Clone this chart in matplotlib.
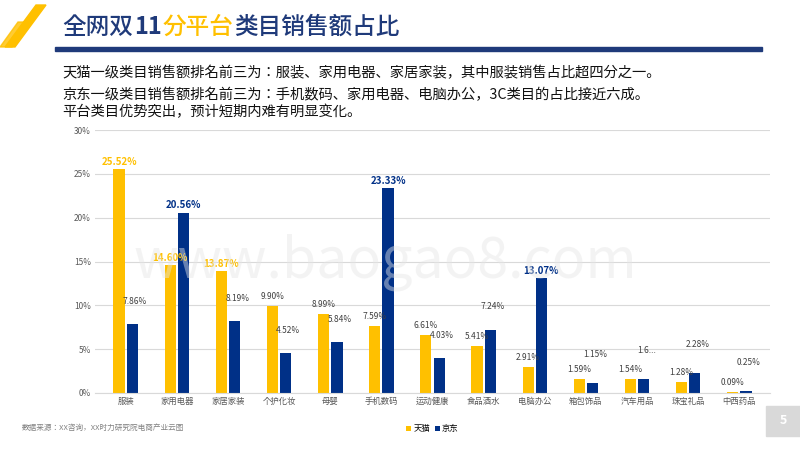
import matplotlib
matplotlib.use("Agg")
import matplotlib.pyplot as plt
from matplotlib import font_manager
import numpy as np
from matplotlib.patches import Polygon, Rectangle

names = {f.name for f in font_manager.fontManager.ttflist}
cjk = [n for n in ["Noto Sans CJK SC", "Noto Sans CJK JP", "Noto Sans CJK TC", "Noto Sans CJK KR"] if n in names]
plt.rcParams["font.family"] = cjk + ["DejaVu Sans"]

categories = ["服装", "家用电器", "家居家装", "个护化妆", "母婴", "手机数码", "运动健康",
              "食品酒水", "电脑办公", "箱包饰品", "汽车用品", "珠宝礼品", "中西药品"]
tmall = [25.52, 14.60, 13.87, 9.90, 8.99, 7.59, 6.61, 5.41, 2.91, 1.59, 1.54, 1.28, 0.09]
jd = [7.86, 20.56, 8.19, 4.52, 5.84, 23.33, 4.03, 7.24, 13.07, 1.15, 1.6, 2.28, 0.25]
yticks = [0, 5, 10, 15, 20, 25, 30]
series_names = ["天猫", "京东"]

GOLD = "#FFC000"
NAVY = "#003087"
TNAVY = "#1F3A7A"

fig = plt.figure(figsize=(8, 4.5), dpi=100)
W, H = 800, 450

def fx(x): return x / W
def fy(y): return 1 - y / H

fig.patches.append(Polygon([[fx(36), fy(5)], [fx(46), fy(5)], [fx(15), fy(47)], [fx(5), fy(47)]],
                           closed=True, transform=fig.transFigure, color=GOLD))
fig.patches.append(Polygon([[fx(18), fy(22)], [fx(30), fy(22)], [fx(12), fy(47)], [fx(0), fy(47)]],
                           closed=True, transform=fig.transFigure, color=GOLD, alpha=0.8))
fig.patches.append(Rectangle((fx(55), fy(51)), fx(707), 4 / H, transform=fig.transFigure, color=TNAVY))

renderer = fig.canvas.get_renderer()
xpos = 62
for part, col, wt in [("全网双", TNAVY, "medium"), ("11", TNAVY, "bold"), ("分平台", GOLD, "medium"),
                      ("类目销售额占比", TNAVY, "medium")]:
    t = fig.text(fx(xpos), fy(27), part, fontsize=17, color=col, va="center", fontweight=wt)
    xpos += t.get_window_extent(renderer).width + 1

lines = ["天猫一级类目销售额排名前三为：服装、家用电器、家居家装，其中服装销售占比超四分之一。",
         "京东一级类目销售额排名前三为：手机数码、家用电器、电脑办公，3C类目的占比接近六成。",
         "平台类目优势突出，预计短期内难有明显变化。"]
for t, y in zip(lines, [73, 95, 112]):
    fig.text(fx(62), fy(y), t, fontsize=10.3, color="#111111", va="center")

fig.patches.append(Rectangle((fx(766), fy(436)), fx(34), 30 / H, transform=fig.transFigure, color="#D9D9D9"))
fig.text(fx(783), fy(421), "5", fontsize=9, color="white", ha="center", va="center", fontweight="bold")

ax = fig.add_axes([fx(95), fy(393), fx(675), (393 - 130) / H])
x = np.arange(len(categories))
w = 0.22
off = 0.13
ax.bar(x - off, tmall, w, color=GOLD, label=series_names[0])
ax.bar(x + off, jd, w, color=NAVY, label=series_names[1])
ax.set_ylim(0, 30)
ax.set_xlim(-0.6, len(categories) - 0.4)
ax.set_yticks(yticks)
ax.set_yticklabels([f"{v}%" for v in yticks], fontsize=6, color="#595959")
ax.set_xticks(x)
ax.set_xticklabels(categories, fontsize=6, color="#595959")
ax.tick_params(length=0, pad=3)
ax.grid(axis="y", color="#D9D9D9", linewidth=0.8)
ax.set_axisbelow(True)
for s in ["top", "right", "left"]:
    ax.spines[s].set_visible(False)
ax.spines["bottom"].set_color("#D9D9D9")

top_t = sorted(range(len(tmall)), key=lambda i: -tmall[i])[:3]
top_j = sorted(range(len(jd)), key=lambda i: -jd[i])[:3]
for i in range(len(categories)):
    if i in top_t:
        ax.text(x[i] - off, tmall[i] + 0.5, f"{tmall[i]:.2f}%", ha="center", fontsize=7,
                color=GOLD, fontweight="bold")
    else:
        ax.text(x[i] - off, tmall[i] + 0.8, f"{tmall[i]:.2f}%", ha="center", fontsize=6, color="#404040")
    if i in top_j:
        ax.text(x[i] + off, jd[i] + 0.5, f"{jd[i]:.2f}%", ha="center", fontsize=7,
                color=NAVY, fontweight="bold")
    else:
        lbl = "1.6..." if i == 10 else f"{jd[i]:.2f}%"
        ax.text(x[i] + off + 0.05, jd[i] + (3.0 if i >= 9 else 2.3), lbl, ha="center", fontsize=6, color="#404040")

ax.legend(loc="upper center", bbox_to_anchor=(0.5, -0.09), ncol=2, frameon=False, fontsize=6,
          handlelength=0.6, handleheight=0.6, columnspacing=0.5, handletextpad=0.3)

fig.text(fx(385), fy(262), "www.baogao8.com", fontsize=40, color="#E6E6E6", ha="center", va="center",
         alpha=0.45, zorder=10)
fig.text(fx(22), fy(428), "数据来源：XX咨询，XX时力研究院电商产业云图", fontsize=5.5, color="#808080", va="center")

fig.savefig("out.png", dpi=100)
